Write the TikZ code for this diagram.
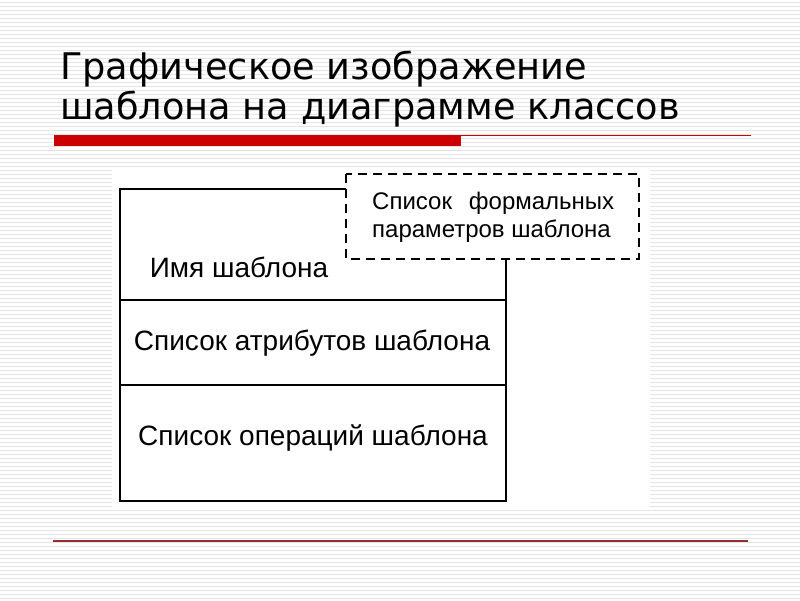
\documentclass[tikz,border=0pt]{standalone}
\usepackage{fontspec}
\usepackage{xcolor}
\usepackage{tikz}
\setmainfont{DejaVu Sans}
\newfontfamily\umlfont{Liberation Sans}
\definecolor{cstripe}{HTML}{E4E4E4}
\definecolor{cbar}{HTML}{CC0000}
\definecolor{cfoot}{HTML}{8E3030}

\begin{document}
\begin{tikzpicture}[x=1pt, y=-1pt,
    umltext/.style={font=\umlfont\fontsize{28}{28}\selectfont, inner sep=0pt},
    parmtext/.style={font=\umlfont\fontsize{24}{28}\selectfont, inner sep=0pt, align=left}]
  \useasboundingbox (0,0) rectangle (800,600);
  % slide background
  \fill[white] (0,0) rectangle (800,600);
  \foreach \y in {2,6,...,598}
    \draw[cstripe, line width=1pt] (0,\y) -- (800,\y);
  % title
  \node[anchor=base west, inner sep=0pt,
        font=\fontsize{36.7}{40}\selectfont] (title1) at (60,79) {Графическое изображение};
  \node[anchor=base west, inner sep=0pt,
        font=\fontsize{36.7}{40}\selectfont] (title2) at (60,119) {шаблона на диаграмме классов};
  \fill[cbar] (54,135) rectangle (461,146);
  \draw[cbar, line width=0.8pt] (461,135.4) -- (751,135.4);
  \draw[cfoot, line width=1.4pt] (53,541) -- (748,541);
  % diagram
  \fill[white] (112,168) rectangle (650,510);
  \draw[line width=1.6pt] (120,189) rectangle (506,501);
  \draw[line width=1.6pt] (120,300) -- (506,300);
  \draw[line width=1.6pt] (120,385) -- (506,385);
  \draw[line width=1.6pt, dashed, dash pattern=on 9pt off 6pt, fill=white]
        (346,174) rectangle (639,259);
  \node[umltext] (name) at (239,267) {Имя шаблона};
  \node[umltext] (attrs) at (312,343) {Список атрибутов шаблона};
  \node[umltext] (ops) at (313,438) {Список операций шаблона};
  \node[parmtext, anchor=west] (parms) at (372,217)
        {\makebox[242pt][s]{Список\hfill формальных}\\параметров шаблона};
\end{tikzpicture}
\end{document}
